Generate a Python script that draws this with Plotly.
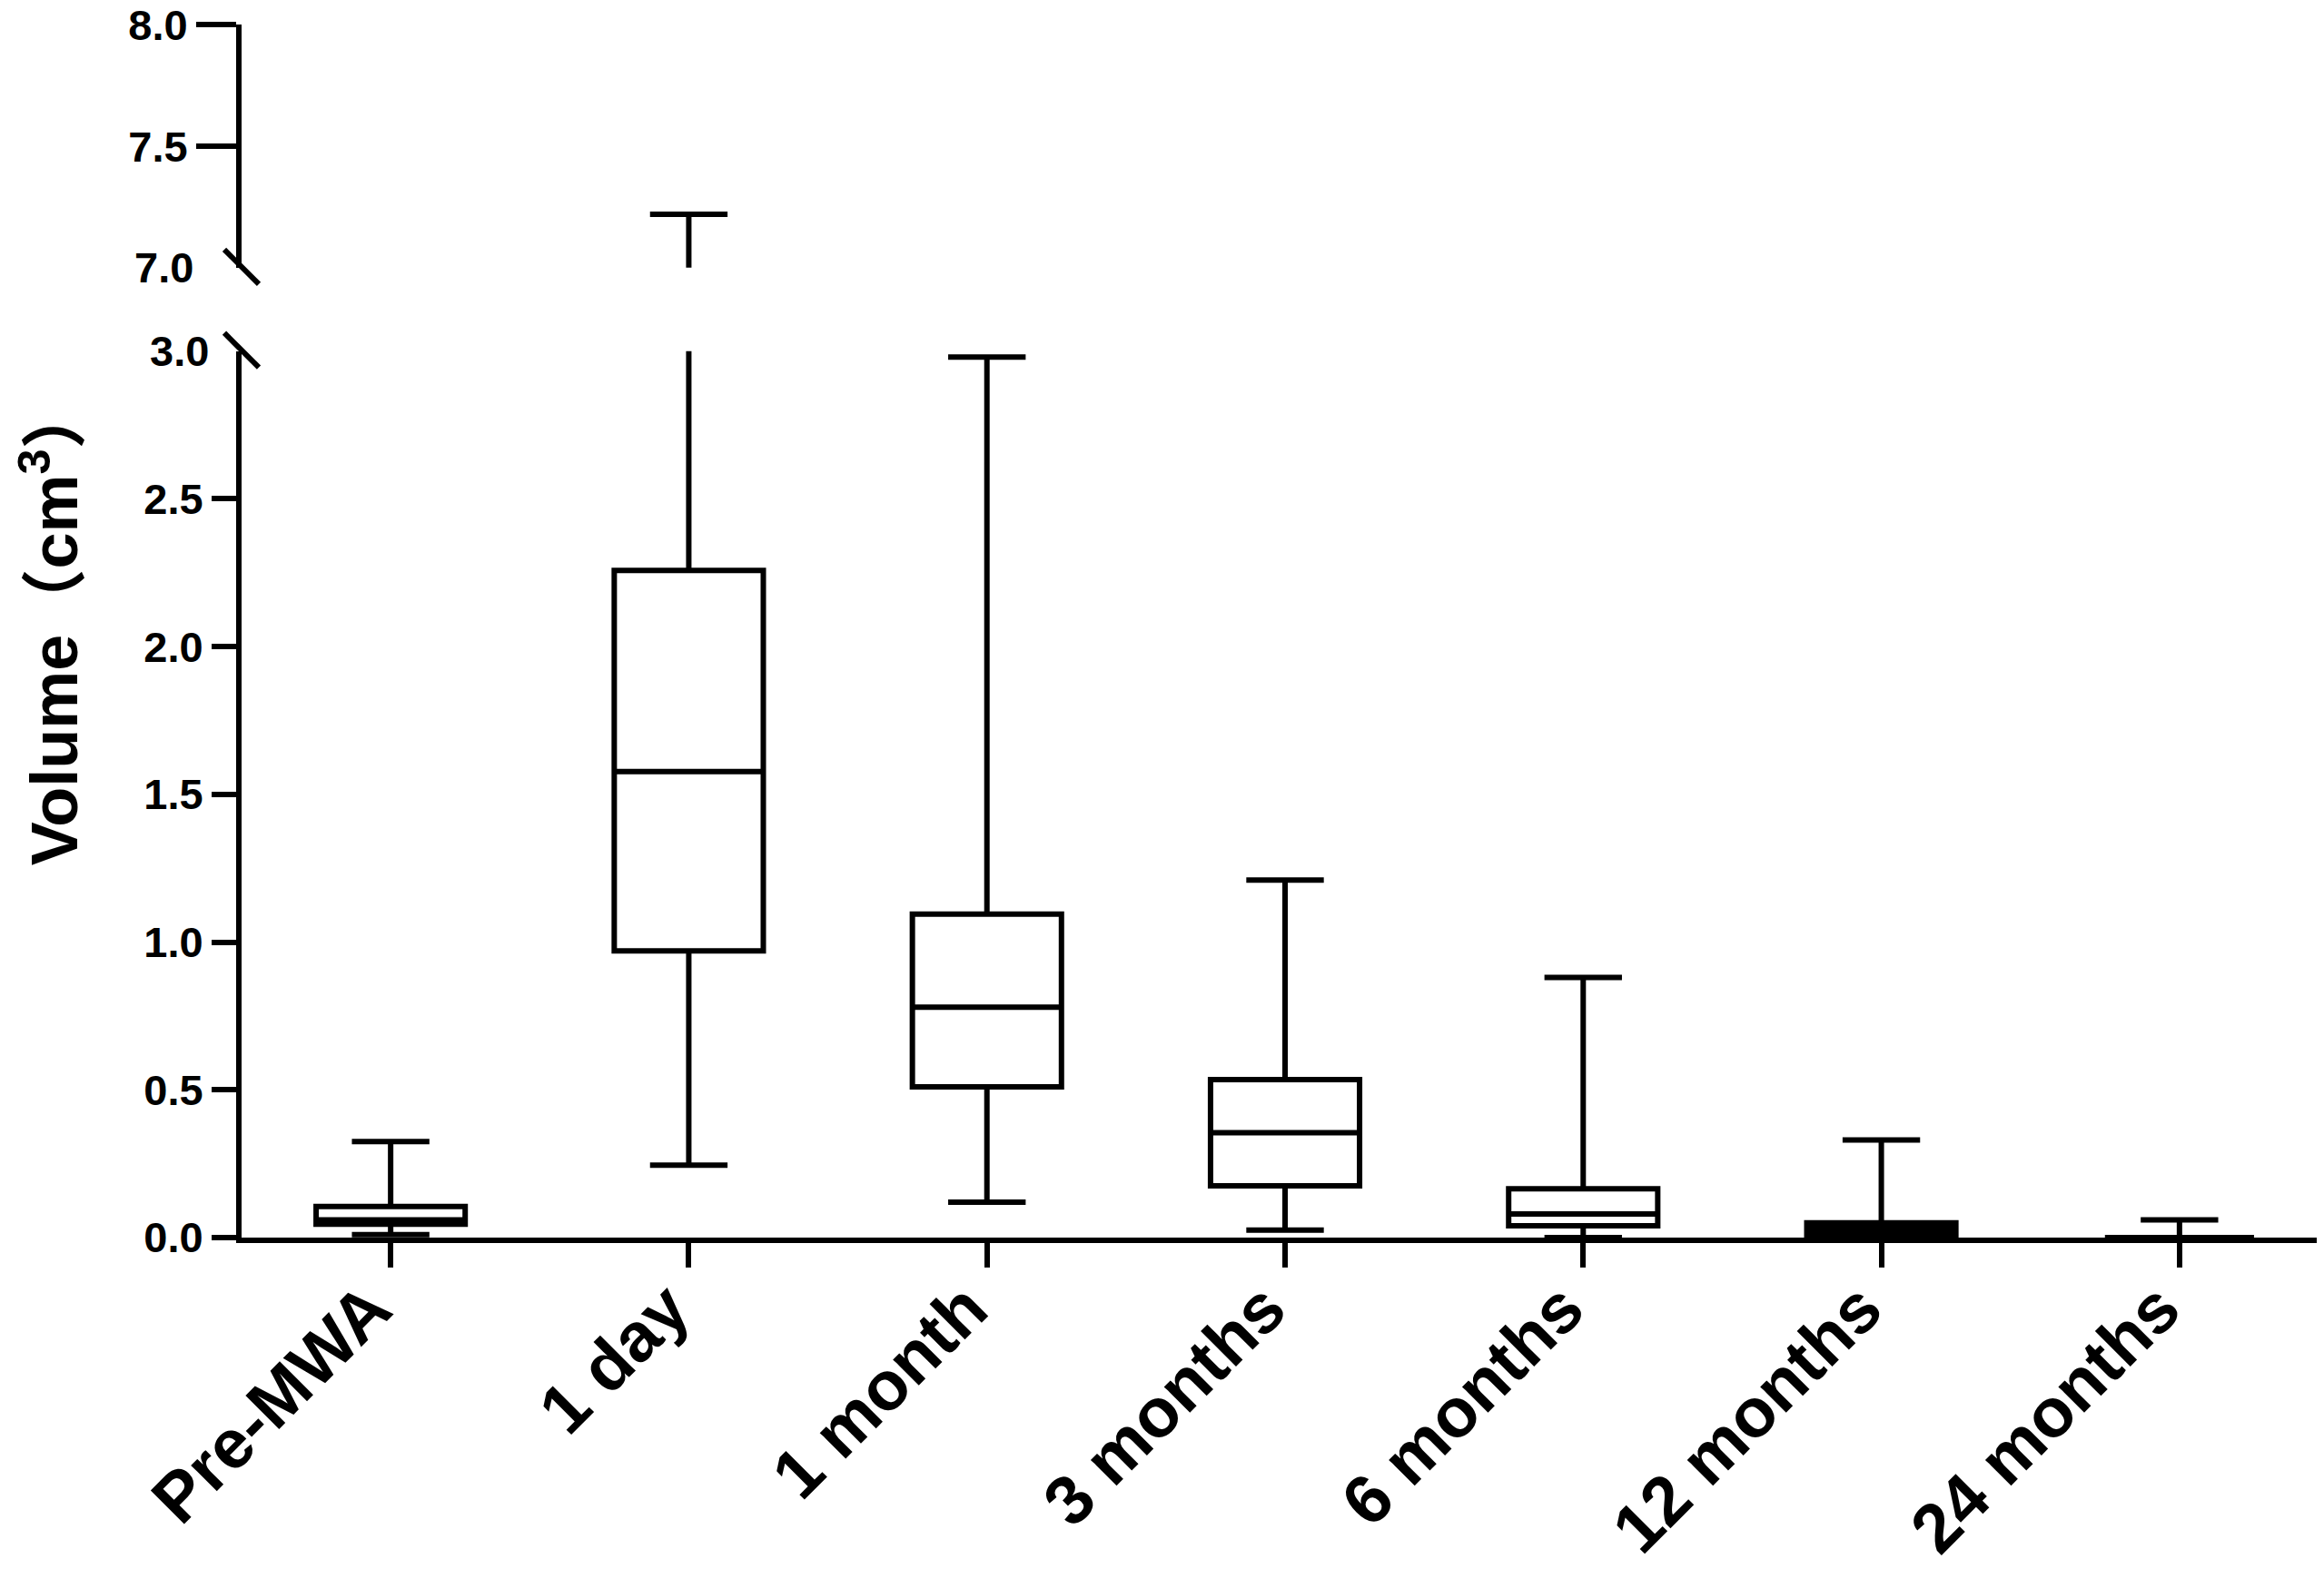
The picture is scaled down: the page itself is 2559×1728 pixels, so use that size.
'''
Box plot of ablation zone volume over follow-up time,
drawn on a broken y axis (0-3 and 7-8 cm3).
'''
import plotly.graph_objects as go

# categories and box statistics (cm3)
categories = ["Pre-MWA", "1 day", "1 month", "3 months", "6 months", "12 months", "24 months"]
lower_whisker = [0.01, 0.245, 0.12, 0.025, 0.0, 0.0, 0.0]
q1 = [0.045, 0.97, 0.51, 0.175, 0.04, 0.0, 0.0]
median = [0.06, 1.577, 0.78, 0.355, 0.08, 0.04, 0.0]
q3 = [0.105, 2.258, 1.095, 0.535, 0.165, 0.05, 0.0]
upper_whisker = [0.325, 7.22, 2.98, 1.21, 0.88, 0.33, 0.06]

lower_ticks = [0.0, 0.5, 1.0, 1.5, 2.0, 2.5]
upper_ticks = [7.5, 8.0]

FONT = "Liberation Sans, Arial, Noto Sans CJK SC"
tick_font = dict(family=FONT, size=47, color="black", weight="bold")

fig = go.Figure()

for i, cat in enumerate(categories):
    fill = "black" if cat == "12 months" else "white"
    for xa, ya in (("x", "y"), ("x2", "y2")):
        fig.add_trace(go.Box(
            x=[cat], q1=[q1[i]], median=[median[i]], q3=[q3[i]],
            lowerfence=[lower_whisker[i]], upperfence=[upper_whisker[i]],
            boxpoints=False, width=0.5, whiskerwidth=0.52,
            fillcolor=fill, line=dict(color="black", width=6),
            xaxis=xa, yaxis=ya, showlegend=False, hoverinfo="skip"))

# axis break marks
for yref, yanc in (("y2 domain", 0), ("y domain", 1)):
    fig.add_shape(type="line", xref="paper", yref=yref,
                  xsizemode="pixel", ysizemode="pixel",
                  xanchor=0, yanchor=yanc,
                  x0=-19, y0=20, x1=19, y1=-18,
                  line=dict(color="black", width=6))

# labels at the break (no tick mark there)
fig.add_annotation(text="7.0", xref="paper", x=0, xanchor="right", xshift=-51,
                   yref="y2 domain", y=0, yanchor="middle", showarrow=False, font=tick_font)
fig.add_annotation(text="3.0", xref="paper", x=0, xanchor="right", xshift=-34,
                   yref="y domain", y=1, yanchor="middle", showarrow=False, font=tick_font)

# y axis title
fig.add_annotation(text="Volume（cm<sup>3</sup>）", textangle=-90,
                   xref="paper", x=0, xanchor="center", xshift=-212,
                   yref="paper", y=0.505, yanchor="middle", showarrow=False,
                   font=dict(family=FONT, size=72, color="black", weight="bold"))

fig.update_layout(
    width=2559, height=1728,
    margin=dict(l=258, r=3, t=19, b=373),
    plot_bgcolor="white", paper_bgcolor="white",
    boxmode="overlay",
    xaxis=dict(type="category", categoryorder="array", categoryarray=categories,
               range=[-0.5, 6.5], anchor="y", automargin=False,
               showline=True, linecolor="black", linewidth=6,
               ticks="outside", ticklen=27, tickwidth=6, tickcolor="black",
               tickangle=-45, ticklabelstandoff=-30, ticklabelshift=-22,
               tickfont=dict(family=FONT, size=76, color="black", weight="bold"),
               showgrid=False, zeroline=False),
    xaxis2=dict(matches="x", anchor="y2", visible=False, automargin=False),
    yaxis=dict(domain=[0, 0.7308], range=[0, 3], tickvals=lower_ticks,
               tickformat=".1f", automargin=False,
               showline=True, linecolor="black", linewidth=6,
               ticks="outside", ticklen=27, tickwidth=6, tickcolor="black",
               tickfont=tick_font, showgrid=False, zeroline=False),
    yaxis2=dict(domain=[0.7995, 1], range=[7, 8.001], tickvals=upper_ticks,
                tickformat=".1f", automargin=False,
                showline=True, linecolor="black", linewidth=6,
                ticks="outside", ticklen=44, tickwidth=6, tickcolor="black",
                ticklabeloverflow="allow",
                tickfont=tick_font, showgrid=False, zeroline=False),
)

fig.write_html("out.html")
